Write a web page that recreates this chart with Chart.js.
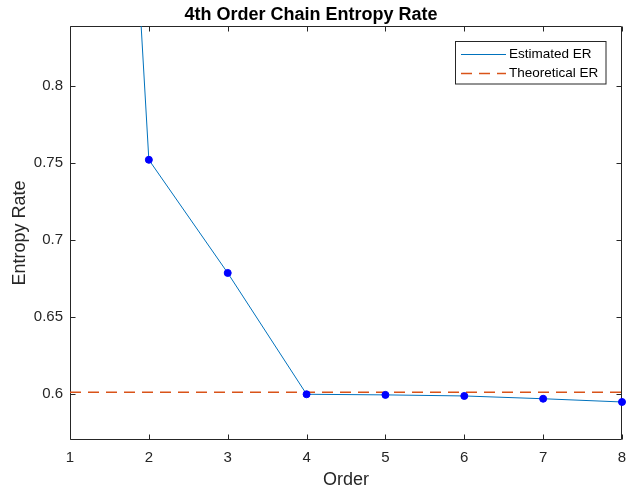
<!DOCTYPE html>
<html>
<head>
<meta charset="utf-8">
<script src="https://cdn.jsdelivr.net/npm/chart.js@4/dist/chart.umd.min.js"></script>
<style>
  html, body { margin: 0; padding: 0; background: #fff; }
  #wrap { width: 629px; height: 491px; }
</style>
</head>
<body>
<div id="wrap"><canvas id="c" width="629" height="491"></canvas></div>
<script>
// ---- data ----
const orders = [1, 2, 3, 4, 5, 6, 7, 8];
const estimatedER = [1.64, 0.7521, 0.6786, 0.5998, 0.5994, 0.5987, 0.5969, 0.5948];
const theoreticalER = 0.6011;
const xTickValues = [1, 2, 3, 4, 5, 6, 7, 8];
const xTickLabels = ['1', '2', '3', '4', '5', '6', '7', '8'];
const yTickValues = [0.6, 0.65, 0.7, 0.75, 0.8];
const yTickLabels = ['0.6', '0.65', '0.7', '0.75', '0.8'];
const seriesNames = ['Estimated ER', 'Theoretical ER'];
const titleText = '4th Order Chain Entropy Rate';
const xAxisTitle = 'Order';
const yAxisTitle = 'Entropy Rate';

const FONT = '"Liberation Sans", Arial, Helvetica, sans-serif';
const AXIS = '#262626';
const BLUE = '#0072BD';
const ORANGE = '#D95319';

const estimatedPoints = orders.map((o, i) => ({ x: o, y: estimatedER[i] }));
const theoreticalPoints = [
  { x: orders[0], y: theoreticalER },
  { x: orders[orders.length - 1], y: theoreticalER }
];

const boxPlugin = {
  id: 'matlabBox',
  beforeDatasetsDraw(chart) {
    const { ctx, chartArea: a, scales } = chart;
    const L = Math.round(a.left) + 0.5, R = Math.round(a.right) - 0.5;
    const T = Math.round(a.top) + 0.5, B = Math.round(a.bottom) - 0.5;
    ctx.save();
    ctx.strokeStyle = AXIS;
    ctx.lineWidth = 1;
    ctx.beginPath();
    ctx.rect(L, T, R - L, B - T);
    const tl = 5;
    scales.x.ticks.forEach(t => {
      const px = Math.round(scales.x.getPixelForValue(t.value)) + 0.5;
      ctx.moveTo(px, B); ctx.lineTo(px, B - tl);
      ctx.moveTo(px, T); ctx.lineTo(px, T + tl);
    });
    scales.y.ticks.forEach(t => {
      const py = Math.round(scales.y.getPixelForValue(t.value)) + 0.5;
      ctx.moveTo(L, py); ctx.lineTo(L + tl, py);
      ctx.moveTo(R, py); ctx.lineTo(R - tl, py);
    });
    ctx.stroke();
    ctx.restore();
  }
};

const legendPlugin = {
  id: 'matlabLegend',
  afterDatasetsDraw(chart) {
    const { ctx } = chart;
    const bx = 455.5, by = 41.5, bw = 150.5, bh = 42.5;
    ctx.save();
    ctx.fillStyle = '#fff';
    ctx.fillRect(bx, by, bw, bh);
    ctx.strokeStyle = AXIS;
    ctx.lineWidth = 1;
    ctx.strokeRect(bx, by, bw, bh);
    const rows = [54, 73];
    chart.data.datasets.forEach((ds, i) => {
      const y = rows[i] + 0.5;
      ctx.strokeStyle = ds.borderColor;
      ctx.lineWidth = ds.borderWidth;
      ctx.setLineDash(ds.borderDash || []);
      ctx.beginPath();
      ctx.moveTo(461, y); ctx.lineTo(506, y);
      ctx.stroke();
      ctx.setLineDash([]);
      ctx.fillStyle = '#000';
      ctx.font = '13.5px ' + FONT;
      ctx.textBaseline = 'middle';
      ctx.textAlign = 'left';
      ctx.fillText(ds.label, 509, rows[i] + 0.5);
    });
    ctx.restore();
  }
};

new Chart(document.getElementById('c'), {
  type: 'line',
  data: {
    datasets: [
      {
        label: seriesNames[0],
        data: estimatedPoints,
        borderColor: BLUE,
        borderWidth: 1,
        pointRadius: 3.5,
        pointBorderWidth: 1,
        pointBackgroundColor: '#0000FF',
        pointBorderColor: '#0000FF',
        tension: 0,
        clip: { left: 6, top: 0, right: 6, bottom: 6 }
      },
      {
        label: seriesNames[1],
        data: theoreticalPoints,
        borderColor: ORANGE,
        borderWidth: 1.5,
        borderDash: [11, 7],
        pointRadius: 0,
        tension: 0,
        clip: 0
      }
    ]
  },
  options: {
    responsive: false,
    animation: false,
    devicePixelRatio: 1,
    layout: { padding: { left: 0, right: 7, top: 0, bottom: 0 } },
    plugins: {
      legend: { display: false },
      tooltip: { enabled: false },
      title: {
        display: true,
        text: titleText,
        color: '#000',
        font: { family: FONT, size: 18, weight: 'bold' },
        padding: { top: 4, bottom: 0.4 }
      }
    },
    scales: {
      x: {
        type: 'linear',
        min: 1,
        max: 8,
        grid: { display: true, drawOnChartArea: false, drawTicks: false, color: 'rgba(0,0,0,0)' },
        border: { display: false },
        afterBuildTicks(scale) { scale.ticks = xTickValues.map(v => ({ value: v })); },
        afterFit(scale) { scale.height = 51; scale.paddingLeft = 0; scale.paddingRight = 0; },
        ticks: {
          padding: 9,
          color: AXIS,
          font: { family: FONT, size: 15 },
          maxRotation: 0,
          callback: (v) => xTickLabels[xTickValues.indexOf(v)]
        },
        title: {
          display: true,
          text: xAxisTitle,
          color: AXIS,
          font: { family: FONT, size: 18 },
          padding: { top: 0, bottom: 0 }
        }
      },
      y: {
        type: 'linear',
        min: 0.5701,
        max: 0.839,
        grid: { display: true, drawOnChartArea: false, drawTicks: false, color: 'rgba(0,0,0,0)' },
        border: { display: false },
        afterBuildTicks(scale) { scale.ticks = yTickValues.map(v => ({ value: v })); },
        afterFit(scale) { scale.width = 70; scale.paddingTop = 0; scale.paddingBottom = 0; },
        ticks: {
          padding: 7,
          color: AXIS,
          font: { family: FONT, size: 15 },
          callback: (v) => {
            const i = yTickValues.findIndex(t => Math.abs(t - v) < 1e-9);
            return i >= 0 ? yTickLabels[i] : '';
          }
        },
        title: {
          display: true,
          text: yAxisTitle,
          color: AXIS,
          font: { family: FONT, size: 18 },
          padding: { top: 9, bottom: 0 }
        }
      }
    }
  },
  plugins: [boxPlugin, legendPlugin]
});
</script>
</body>
</html>
